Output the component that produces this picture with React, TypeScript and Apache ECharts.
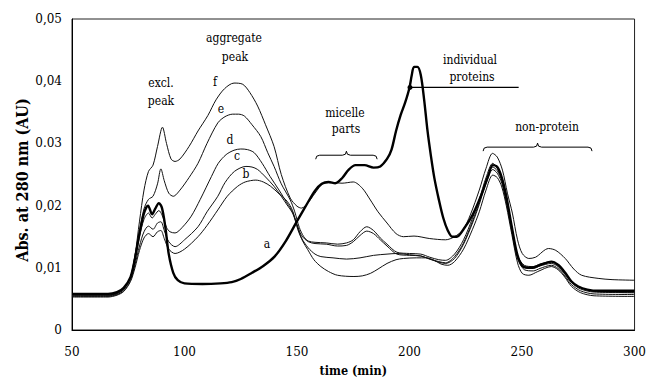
import React, { useEffect, useRef } from "react";
import * as echarts from "echarts";

// ---- data (time in min, absorbance in AU) ----
const curveA: [number, number][] = [
  [50, 0.0058], [66, 0.0058], [70, 0.0061], [73, 0.0068], [76, 0.0085], [78, 0.0115], [80, 0.0155], [82, 0.0188],
  [83.8, 0.02], [85.6, 0.0186], [87, 0.0195], [88.6, 0.0204], [90, 0.0196], [91.5, 0.0165], [93, 0.0122], [95, 0.0092],
  [97, 0.008], [100, 0.0075], [108, 0.0074], [116, 0.0075], [121, 0.0077], [125, 0.0082], [130, 0.0092], [135, 0.0103],
  [140, 0.0118], [145, 0.0143], [150, 0.0175], [154.8, 0.0205], [158, 0.0224], [161, 0.0235], [164, 0.0238],
  [167, 0.0236], [170, 0.0244], [173, 0.0258], [176, 0.0265], [180, 0.0265], [184, 0.0261], [187, 0.0263], [190, 0.0275],
  [192, 0.029], [194, 0.032], [196, 0.0345], [198, 0.0365], [200, 0.039], [201, 0.041], [202, 0.0423], [203.5, 0.0423],
  [205, 0.041], [206.5, 0.037], [208, 0.032], [209.5, 0.028], [211, 0.0245], [213, 0.021], [215, 0.018], [217, 0.016],
  [219, 0.015], [221, 0.015], [224, 0.0162], [228, 0.0185], [232, 0.0218], [235, 0.0248], [237, 0.0265], [239, 0.0262],
  [241, 0.0245], [243, 0.0215], [245.5, 0.0165], [248, 0.012], [250.5, 0.0102], [254, 0.01], [259, 0.0106], [263, 0.011],
  [266, 0.0105], [269, 0.0093], [272, 0.0078], [275, 0.007], [279, 0.0065], [284, 0.0063], [300, 0.0063],
];
const curveB: [number, number][] = [
  [50, 0.0053], [66, 0.0053], [70, 0.0056], [73, 0.0062], [76, 0.0078], [78, 0.01], [80, 0.0128], [82, 0.0148],
  [84, 0.0155], [86, 0.015], [88, 0.0158], [89.5, 0.016], [91, 0.0147], [93, 0.013], [95.8, 0.0123], [100, 0.013],
  [106, 0.015], [110, 0.0168], [114.8, 0.0193], [119, 0.0215], [123.6, 0.0231], [127, 0.0238], [131.7, 0.0241], [135, 0.0238],
  [138.3, 0.0231], [142, 0.0219], [145.6, 0.0207], [148, 0.0192], [150.4, 0.0161], [152.5, 0.0143], [154.8, 0.0129],
  [157.5, 0.0113], [160.6, 0.0102], [164, 0.0094], [168, 0.0088], [175.3, 0.0086], [179, 0.0087], [182.6, 0.0091],
  [186, 0.0098], [190, 0.0107], [194, 0.0113], [197.3, 0.0115], [203, 0.0116], [207.6, 0.0116], [211, 0.0112], [214, 0.0106],
  [217, 0.0104], [220, 0.011], [224, 0.013], [228, 0.0162], [231, 0.019], [234, 0.0225], [237, 0.0249], [239, 0.0245],
  [241, 0.023], [243, 0.02], [245.5, 0.0153], [248, 0.0108], [250.1, 0.0091], [253, 0.0088], [257, 0.0094], [263, 0.0102],
  [266, 0.0097], [269, 0.0085], [272, 0.007], [276, 0.006], [282, 0.0055], [300, 0.0054],
];
const curveC: [number, number][] = [
  [50, 0.0054], [66, 0.0054], [70, 0.0057], [73, 0.0063], [76, 0.008], [78, 0.0105], [80, 0.0135], [82, 0.0158],
  [84, 0.0167], [86, 0.0162], [88, 0.0172], [89.5, 0.0174], [91, 0.016], [93, 0.0142], [95.8, 0.0134], [100, 0.0145],
  [106, 0.0166], [110, 0.019], [114.8, 0.0215], [118, 0.0237], [122.2, 0.0255], [127.3, 0.0263], [130, 0.0262], [132.5, 0.0258],
  [136, 0.0246], [139.8, 0.0231], [143, 0.0215], [145.6, 0.0201], [148, 0.0188], [150, 0.0168], [152, 0.0148], [155, 0.0132],
  [158, 0.0122], [160.6, 0.0118], [166, 0.0116], [172, 0.0114], [178, 0.0116], [184, 0.012], [190, 0.0122], [194.4, 0.0123],
  [200, 0.0121], [205, 0.0119], [209, 0.0114], [213, 0.0109], [216, 0.0107], [220, 0.0115], [224, 0.0138], [228, 0.0172],
  [231, 0.0202], [234, 0.0236], [237, 0.0258], [239, 0.0252], [241, 0.0236], [243, 0.0205], [245.5, 0.0158], [248, 0.0115],
  [251, 0.0097], [255, 0.0095], [258, 0.0099], [263, 0.0104], [266, 0.0099], [269, 0.0087], [272, 0.0073], [276, 0.0063],
  [282, 0.0058], [300, 0.0057],
];
const curveD: [number, number][] = [
  [50, 0.0056], [66, 0.0056], [70, 0.0059], [73, 0.0066], [76, 0.0085], [78, 0.0115], [80, 0.015], [82, 0.0178],
  [84, 0.0188], [85.6, 0.018], [87, 0.0186], [88.6, 0.0192], [90, 0.0185], [92, 0.0165], [93.5, 0.0158], [95.8, 0.0156],
  [99, 0.0165], [103, 0.0183], [107, 0.021], [112, 0.0247], [115, 0.0268], [118.5, 0.0282], [122, 0.0289], [125, 0.0291],
  [128, 0.029], [131, 0.0285], [134.5, 0.0268], [138, 0.0247], [142, 0.0225], [145.6, 0.0204], [148, 0.019], [150, 0.017],
  [152, 0.0152], [155, 0.0142], [158, 0.0139], [163, 0.0138], [168, 0.0135], [172, 0.0136], [175, 0.0142], [178, 0.0152],
  [181, 0.0159], [184, 0.0155], [187, 0.0145], [190, 0.0135], [194.4, 0.0122], [200, 0.012], [205, 0.0119], [209, 0.0114],
  [213, 0.011], [216, 0.0108], [220, 0.0118], [224, 0.014], [228, 0.0175], [231, 0.0205], [234, 0.024], [237, 0.0262],
  [239, 0.0256], [241, 0.024], [243, 0.0208], [245.5, 0.016], [248, 0.0118], [251, 0.0101], [255, 0.0099], [258, 0.0103],
  [263, 0.0107], [266, 0.0102], [269, 0.009], [272, 0.0076], [276, 0.0066], [282, 0.0061], [300, 0.006],
];
const curveE: [number, number][] = [
  [50, 0.0056], [66, 0.0056], [70, 0.0059], [73, 0.0066], [76, 0.0085], [78, 0.012], [80, 0.016], [82, 0.0195],
  [84, 0.021], [86, 0.0215], [88, 0.0235], [89.5, 0.0259], [91, 0.024], [93, 0.022], [95, 0.0215], [98, 0.0225],
  [102, 0.0245], [106, 0.0268], [110, 0.03], [114.8, 0.0333], [118, 0.0343], [121.4, 0.0347], [124, 0.0347], [126.6, 0.0344],
  [130, 0.033], [133.9, 0.0311], [137, 0.0285], [139.8, 0.0263], [143, 0.0235], [147, 0.0209], [149, 0.019], [151, 0.0165],
  [153, 0.015], [155, 0.0143], [158, 0.0141], [163, 0.014], [168, 0.0138], [172, 0.014], [175, 0.0145], [178, 0.0158],
  [181, 0.0166], [184, 0.016], [187, 0.0148], [190, 0.0138], [194.4, 0.0125], [200, 0.0123], [205, 0.0122], [209, 0.0117],
  [213, 0.0113], [216, 0.0112], [220, 0.0122], [224, 0.0145], [228, 0.018], [231, 0.021], [234, 0.0245], [237, 0.0268],
  [239, 0.026], [241, 0.0243], [243, 0.021], [245.5, 0.0165], [248, 0.012], [251, 0.0104], [255, 0.0102], [258, 0.0106],
  [263, 0.011], [266, 0.0105], [269, 0.0093], [272, 0.0078], [276, 0.0068], [282, 0.0062], [300, 0.006],
];
const curveF: [number, number][] = [
  [50, 0.0055], [66, 0.0055], [70, 0.0058], [73, 0.0065], [76, 0.0085], [78, 0.012], [80, 0.0175], [82, 0.0225],
  [84, 0.0255], [86, 0.0265], [88, 0.0295], [90.2, 0.0326], [92, 0.03], [94, 0.0275], [95.8, 0.0271], [98, 0.0275],
  [102, 0.0295], [106, 0.032], [110.4, 0.0345], [114, 0.037], [117.8, 0.0388], [122, 0.0397], [125.9, 0.0395], [129, 0.0382],
  [132.5, 0.036], [136, 0.033], [139.8, 0.0295], [143, 0.025], [147, 0.0212], [150, 0.0199], [152, 0.0196], [155, 0.0205],
  [158, 0.022], [162, 0.0236], [166, 0.0237], [170, 0.0236], [175, 0.0238], [179, 0.0228], [182.6, 0.0209], [186, 0.019],
  [190, 0.0172], [194, 0.0155], [197.3, 0.015], [202, 0.0151], [209, 0.0147], [216, 0.0145], [220, 0.015], [223.7, 0.0161],
  [227, 0.0185], [231, 0.0225], [234, 0.026], [236.9, 0.0284], [239, 0.0278], [241.3, 0.0257], [243.5, 0.022], [245.7, 0.0188],
  [248, 0.0145], [250.1, 0.0123], [253, 0.0115], [256, 0.0117], [261.8, 0.0131], [265, 0.0128], [269.2, 0.0115], [273, 0.0098],
  [276.5, 0.0088], [283.8, 0.0083], [290, 0.0081], [300, 0.008],
];

const thinCurves = [curveB, curveC, curveD, curveE, curveF];
const thinNames = ["b", "c", "d", "e", "f"];

const yTickLabels = ["0", "0,01", "0,02", "0.03", "0,04", "0,05"];
const xTicks = [50, 100, 150, 200, 250, 300];

// pointer of "individual proteins" annotation: [time, abs]
const pointerLine: [number, number][] = [[200.2, 0.039], [248.5, 0.039]];
// braces: [start time, end time, abs level]
const braces: [number, number, number][] = [[158.3, 185.6, 0.0281], [232.7, 281.1, 0.0294]];

const FONT = "DejaVu Serif";
const FONT_COND = "DejaVu Serif Condensed";

export default function App() {
  const ref = useRef<HTMLDivElement>(null);
  useEffect(() => {
    document.body.style.margin = "0";
    const chart = echarts.init(ref.current!, null, { renderer: "svg" });
    const series: any[] = [];
    thinCurves.forEach((c, i) => {
      series.push({
        name: thinNames[i],
        type: "line",
        data: c,
        showSymbol: false,
        smooth: 0.3,
        lineStyle: { color: "#111", width: 1 },
        z: 2,
      });
    });
    series.push({
      name: "a",
      type: "line",
      data: curveA,
      showSymbol: false,
      smooth: 0.3,
      lineStyle: { color: "#000", width: 2.4 },
      z: 3,
    });
    series.push({
      name: "pointer",
      type: "line",
      data: pointerLine.map((p, i) => ({ value: p, symbol: i === 0 ? "circle" : "none", symbolSize: 5 })),
      showSymbol: true,
      itemStyle: { color: "#000" },
      lineStyle: { color: "#000", width: 1.2 },
      z: 4,
    });
    series.push({
      name: "braces",
      type: "custom",
      data: braces,
      renderItem: (params: any, api: any) => {
        const p0 = api.coord([api.value(0), api.value(2)]);
        const p1 = api.coord([api.value(1), api.value(2)]);
        const y = p0[1];
        const x0 = p0[0];
        const x1 = p1[0];
        const xm = (x0 + x1) / 2;
        const h = 4;
        const d = `M${x0},${y + h} Q${x0},${y} ${x0 + h},${y} L${xm - h},${y} Q${xm},${y} ${xm},${y - h} Q${xm},${y} ${xm + h},${y} L${x1 - h},${y} Q${x1},${y} ${x1},${y + h}`;
        return {
          type: "path",
          shape: { pathData: d },
          style: { stroke: "#000", fill: "none", lineWidth: 1 },
        };
      },
      z: 4,
    });

    const txt = (text: string, x: number, y: number) => ({
      type: "text",
      x,
      y,
      style: {
        text,
        font: `12px "${FONT_COND}"`,
        fill: "#000",
        align: "center",
        verticalAlign: "middle",
      },
    });

    chart.setOption({
      animation: false,
      backgroundColor: "#fff",
      grid: { left: 72, right: 10, top: 19, bottom: 55, show: true, borderColor: "#222", borderWidth: 1 },
      xAxis: {
        type: "value",
        min: 50,
        max: 300,
        interval: 50,
        name: "time (min)",
        nameLocation: "middle",
        nameGap: 34,
        nameTextStyle: { fontFamily: FONT_COND, fontSize: 12.5, fontWeight: "bold", color: "#000" },
        axisLine: { show: true, lineStyle: { color: "#000", width: 1 } },
        axisTick: { show: false },
        splitLine: { show: false },
        axisLabel: {
          fontFamily: FONT,
          fontSize: 12,
          color: "#000",
          margin: 16,
          formatter: (v: number) => (xTicks.includes(v) ? String(v) : ""),
        },
      },
      yAxis: {
        type: "value",
        min: 0,
        max: 0.05,
        interval: 0.01,
        axisLine: { show: true, lineStyle: { color: "#000", width: 1 } },
        axisTick: { show: false },
        splitLine: { show: false },
        axisLabel: {
          fontFamily: FONT,
          fontSize: 12,
          color: "#000",
          margin: 10,
          formatter: (v: number) => yTickLabels[Math.round(v / 0.01)] ?? "",
        },
      },
      graphic: [
        {
          type: "text",
          x: 22,
          y: 180,
          rotation: Math.PI / 2,
          style: {
            text: "Abs. at 280 nm (AU)",
            font: `bold 16px "${FONT_COND}"`,
            fill: "#000",
            align: "center",
            verticalAlign: "middle",
          },
        },
        txt("excl.", 161, 83),
        txt("peak", 161, 101),
        txt("aggregate", 234, 38),
        txt("peak", 235, 57),
        txt("f", 215, 82),
        txt("e", 221, 109),
        txt("d", 230, 140),
        txt("c", 237, 156),
        txt("b", 246, 174),
        txt("a", 267, 244),
        txt("micelle", 345, 113),
        txt("parts", 346, 129),
        txt("individual", 470, 60),
        txt("proteins", 472, 77),
        txt("non-protein", 547, 127),
      ],
      series,
    });
    return () => chart.dispose();
  }, []);
  return <div ref={ref} style={{ width: 649, height: 385 }} />;
}
